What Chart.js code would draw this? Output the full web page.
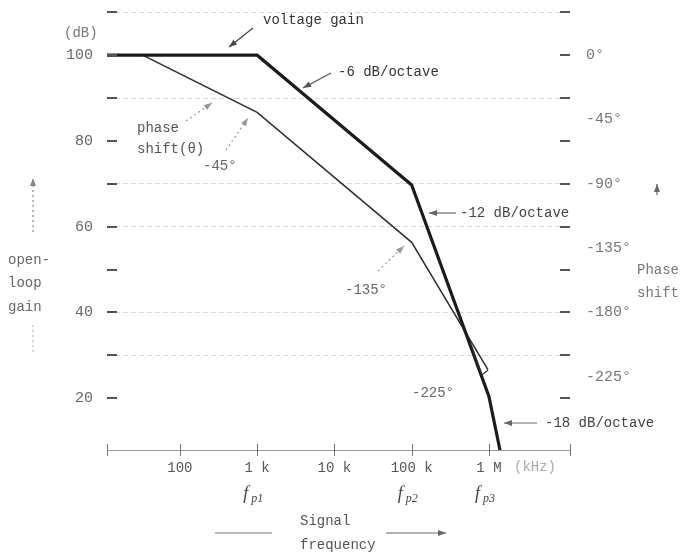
<!DOCTYPE html>
<html lang="en">
<head>
<meta charset="UTF-8">
<title>Open-loop gain and phase shift</title>
<style>
  html, body { margin: 0; padding: 0; background: #fff; }
  #chart { display: block; }
</style>
</head>
<body>
<canvas id="chart" width="685" height="555"></canvas>

<script src="https://cdn.jsdelivr.net/npm/chart.js@4"></script>
<script>
// values
const freqMin = 11.4;
const freqMax = 1.12e7;
const gainFreq = [11.4, 1e3, 1e5, 1e6, 1.39e6];
const gainDb = [100, 100, 69.7, 20.4, 7.9];
const phaseFreq = [33, 1e3, 1e5, 9.7e5];
const phaseDeg = [0, -40, -131, -220];

const dbMin = 7.9, dbMax = 111.7;
const dbTicks = [20, 30, 40, 50, 60, 70, 80, 90, 100, 110];
const dbLabels = [20, 40, 60, 80, 100];
const dbGrid = [30, 40, 60, 70, 90, 110];
const phaseTicks = [0, -45, -90, -135, -180, -225];
const freqTicks = [freqMin, 100, 1e3, 1e4, 1e5, 1e6, freqMax];
const freqLabels = { 100: '100', 1000: '1 k', 10000: '10 k', 100000: '100 k', 1000000: '1 M' };
const poleFreq = [1e3, 1e5, 1e6];
const poleNames = ['p1', 'p2', 'p3'];

// phase axis is tied to the dB axis: 0° at 100 dB, 45° per 15 dB
const toPhase = db => (db - 100) * 3;

const mono = '"Liberation Mono", "DejaVu Sans Mono", monospace';

const decor = {
  id: 'decor',
  afterDatasetsDraw(chart) {
    const { ctx, chartArea: a, scales: { x, y } } = chart;
    const line = (x1, y1, x2, y2) => { ctx.beginPath(); ctx.moveTo(x1, y1); ctx.lineTo(x2, y2); ctx.stroke(); };
    const text = (s, tx, ty, color, size) => {
      ctx.fillStyle = color || '#555';
      ctx.font = (size || 14) + 'px ' + mono;
      ctx.textBaseline = 'middle';
      ctx.textAlign = 'left';
      ctx.fillText(s, tx, ty);
    };
    const arrow = (x1, y1, x2, y2, color, dotted) => {
      ctx.strokeStyle = color; ctx.fillStyle = color; ctx.lineWidth = 1.2;
      ctx.setLineDash(dotted ? [2, 3] : []);
      line(x1, y1, x2, y2);
      ctx.setLineDash([]);
      const ang = Math.atan2(y2 - y1, x2 - x1);
      ctx.beginPath();
      ctx.moveTo(x2, y2);
      ctx.lineTo(x2 - 8 * Math.cos(ang) + 3 * Math.sin(ang), y2 - 8 * Math.sin(ang) - 3 * Math.cos(ang));
      ctx.lineTo(x2 - 8 * Math.cos(ang) - 3 * Math.sin(ang), y2 - 8 * Math.sin(ang) + 3 * Math.cos(ang));
      ctx.closePath();
      ctx.fill();
    };

    ctx.save();
    // short dashes on both edges of the plot
    ctx.strokeStyle = '#555'; ctx.lineWidth = 2;
    dbTicks.forEach(v => {
      const py = Math.round(y.getPixelForValue(v));
      line(a.left, py, a.left + 10, py);
      line(a.right - 10, py, a.right, py);
    });
    // frequency ticks crossing the axis
    ctx.strokeStyle = '#777'; ctx.lineWidth = 1;
    freqTicks.forEach(f => {
      const px = Math.round(x.getPixelForValue(f)) + 0.5;
      line(px, a.bottom - 6, px, a.bottom + 6);
    });

    // pole frequencies under the axis
    ctx.fillStyle = '#444';
    poleFreq.forEach((f, i) => {
      const px = x.getPixelForValue(f);
      ctx.textBaseline = 'alphabetic';
      ctx.textAlign = 'left';
      ctx.font = 'italic 18px "Liberation Serif", serif';
      ctx.fillText('f', px - 14, a.bottom + 49);
      ctx.font = 'italic 12px "Liberation Serif", serif';
      ctx.fillText(poleNames[i], px - 6, a.bottom + 52);
    });

    // annotations
    text('(dB)', 64, 33, '#777');
    text('voltage gain', 263, 20, '#333');
    arrow(253, 28, 229, 47, '#444');
    text('-6 dB/octave', 338, 72, '#333');
    arrow(331, 73, 303, 88, '#555');
    text('phase', 137, 128, '#555');
    text('shift(\u03b8)', 137, 149, '#555');
    arrow(186, 121, 212, 103, '#999', true);
    text('-45\u00b0', 203, 166, '#666');
    arrow(226, 150, 248, 118, '#999', true);
    text('-135\u00b0', 345, 290, '#666');
    arrow(378, 271, 404, 246, '#999', true);
    text('-225\u00b0', 412, 393, '#666');
    text('-12 dB/octave', 460, 213, '#444');
    arrow(456, 213, 429, 213, '#666');
    text('-18 dB/octave', 545, 423, '#444');
    arrow(537, 423, 504, 423, '#666');
    text('(kHz)', 514, 467, '#aaa');

    // small open triangle at the end of the phase line
    ctx.strokeStyle = '#333'; ctx.lineWidth = 1.2;
    ctx.beginPath();
    ctx.moveTo(472, 347); ctx.lineTo(482, 375); ctx.lineTo(488, 370);
    ctx.stroke();

    // axis titles
    text('open-', 8, 260, '#666');
    text('loop', 8, 283, '#666');
    text('gain', 8, 307, '#666');
    arrow(33, 232, 33, 178, '#888', true);
    ctx.strokeStyle = '#bbb'; ctx.setLineDash([2, 3]);
    line(33, 325, 33, 355);
    ctx.setLineDash([]);
    text('Phase', 637, 270, '#777');
    text('shift', 637, 293, '#777');
    arrow(657, 195, 657, 184, '#666');
    text('Signal', 300, 521, '#555');
    text('frequency', 300, 545, '#555');
    ctx.strokeStyle = '#777'; ctx.lineWidth = 1;
    line(215, 533, 272, 533);
    arrow(386, 533, 446, 533, '#666');
    ctx.restore();
  }
};

// keep the plot box where the figure has it
const noPad = s => { s.paddingTop = 0; s.paddingBottom = 0; s.paddingLeft = 0; s.paddingRight = 0; };

const ctx = document.getElementById('chart').getContext('2d');
new Chart(ctx, {
  type: 'line',
  data: {
    datasets: [
      {
        label: 'voltage gain',
        data: gainFreq.map((f, i) => ({ x: f, y: gainDb[i] })),
        yAxisID: 'y',
        borderColor: '#1c1c1c',
        borderWidth: 3.2,
        pointRadius: 0,
        tension: 0
      },
      {
        label: 'phase shift',
        data: phaseFreq.map((f, i) => ({ x: f, y: phaseDeg[i] })),
        yAxisID: 'y2',
        borderColor: '#2e2e2e',
        borderWidth: 1.5,
        pointRadius: 0,
        tension: 0
      }
    ]
  },
  options: {
    responsive: false,
    animation: false,
    devicePixelRatio: 1,
    layout: { padding: { top: 5, left: 0, right: 0, bottom: 0 } },
    plugins: { legend: { display: false }, tooltip: { enabled: false } },
    scales: {
      x: {
        type: 'logarithmic',
        min: freqMin,
        max: freqMax,
        afterBuildTicks: s => { s.ticks = freqTicks.map(v => ({ value: v })); },
        afterFit: s => { s.height = 105; noPad(s); },
        grid: { display: false },
        border: { display: true, color: '#999', width: 1 },
        ticks: {
          autoSkip: false,
          maxRotation: 0,
          padding: 2,
          color: '#555',
          font: { family: mono, size: 14 },
          callback: v => freqLabels[v] || ''
        }
      },
      y: {
        position: 'left',
        min: dbMin,
        max: dbMax,
        afterBuildTicks: s => { s.ticks = dbTicks.map(v => ({ value: v })); },
        afterFit: s => { s.width = 107; noPad(s); },
        grid: {
          drawTicks: false,
          lineWidth: 1,
          color: c => dbGrid.includes(c.tick && c.tick.value) ? '#d8d8d8' : 'rgba(0,0,0,0)'
        },
        border: { display: false, dash: [5, 3] },
        ticks: {
          padding: 14,
          color: '#666',
          font: { family: mono, size: 15 },
          callback: v => dbLabels.includes(v) ? String(v) : ''
        }
      },
      y2: {
        position: 'right',
        min: toPhase(dbMin),
        max: toPhase(dbMax),
        afterBuildTicks: s => { s.ticks = phaseTicks.map(v => ({ value: v })); },
        afterFit: s => { s.width = 115; noPad(s); },
        grid: { display: false, drawTicks: false },
        border: { display: false },
        ticks: {
          padding: 16,
          color: '#777',
          font: { family: mono, size: 15 },
          callback: v => v + '\u00b0'
        }
      }
    }
  },
  plugins: [decor]
});
</script>
</body>
</html>
